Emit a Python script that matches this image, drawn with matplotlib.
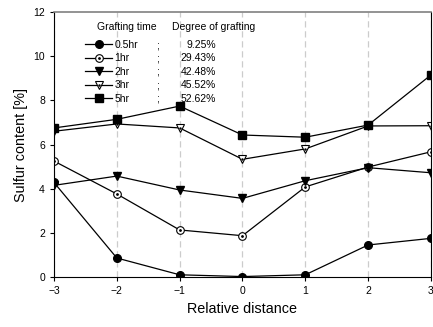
import matplotlib
matplotlib.use("Agg")
import matplotlib.pyplot as plt
from matplotlib.legend_handler import HandlerTuple

plt.rcParams['font.family'] = ['Liberation Sans', 'DejaVu Sans']

distance = [-3, -2, -1, 0, 1, 2, 3]
s_05hr = [4.28, 0.86, 0.10, 0.02, 0.10, 1.45, 1.75]
s_1hr = [5.25, 3.76, 2.13, 1.87, 4.08, 4.98, 5.67]
s_2hr = [4.15, 4.57, 3.94, 3.56, 4.36, 4.95, 4.72]
s_3hr = [6.60, 6.93, 6.75, 5.33, 5.80, 6.84, 6.85]
s_5hr = [6.75, 7.14, 7.74, 6.43, 6.33, 6.88, 9.15]
times = ["0.5hr", "1hr", "2hr", "3hr", "5hr"]
degrees = ["9.25%", "29.43%", "42.48%", "45.52%", "52.62%"]

fig = plt.figure(figsize=(4.33, 3.27), dpi=100)
ax = fig.add_axes([0.1247, 0.1529, 0.8706, 0.8104])

lw = 0.9
h1, = ax.plot(distance, s_05hr, "k-o", lw=lw, ms=5.5)
h2, = ax.plot(distance, s_1hr, "k-o", lw=lw, ms=5.5, mfc="white", mew=0.8)
d2, = ax.plot(distance, s_1hr, "k.", ms=2)
h3, = ax.plot(distance, s_2hr, "k-v", lw=lw, ms=6)
h4, = ax.plot(distance, s_3hr, "k-v", lw=lw, ms=6, mfc="white", mew=0.8)
d4, = ax.plot(distance, s_3hr, "k.", ms=1.5)
h5, = ax.plot(distance, s_5hr, "k-s", lw=lw, ms=5.5)

fs = 7.5
handles = [h1, (h2, d2), h3, (h4, d4), h5]
leg = ax.legend(handles, times, loc="upper left", bbox_to_anchor=(0.072, 0.91),
                frameon=False, fontsize=fs, handlelength=2.6, handletextpad=0.2,
                labelspacing=0.33, borderaxespad=0,
                handler_map={tuple: HandlerTuple(ndivide=1, pad=0)})

ax.text(0.115, 0.932, "Grafting time", transform=ax.transAxes, fontsize=fs)
ax.text(0.313, 0.932, "Degree of grafting", transform=ax.transAxes, fontsize=fs)
fig.canvas.draw()
for t, deg in zip(leg.get_texts(), degrees):
    bb = t.get_window_extent()
    yc = (bb.y0 + bb.y1) / 2
    ya = ax.transAxes.inverted().transform((0, yc))[1]
    ax.text(0.27, ya, ";", transform=ax.transAxes, fontsize=fs, va="center")
    ax.text(0.43, ya, deg, transform=ax.transAxes, fontsize=fs, va="center", ha="right")

ax.set_xlim(-3, 3)
ax.set_ylim(0, 12)
ax.set_xticks(distance)
ax.set_yticks(range(0, 13, 2))
ax.tick_params(labelsize=7.5, length=3, width=0.8)
ax.xaxis.grid(True, ls=(0, (5, 3)), color="#cccccc", lw=0.9)
ax.set_axisbelow(True)
ax.spines["top"].set_color("#808080")
ax.spines["top"].set_linewidth(1.2)
ax.set_xlabel("Relative distance", fontsize=10.4)
ax.set_ylabel("Sulfur content [%]", fontsize=10.4)
for s in ax.spines.values():
    s.set_zorder(2.5)

fig.savefig("out.png", dpi=100)
